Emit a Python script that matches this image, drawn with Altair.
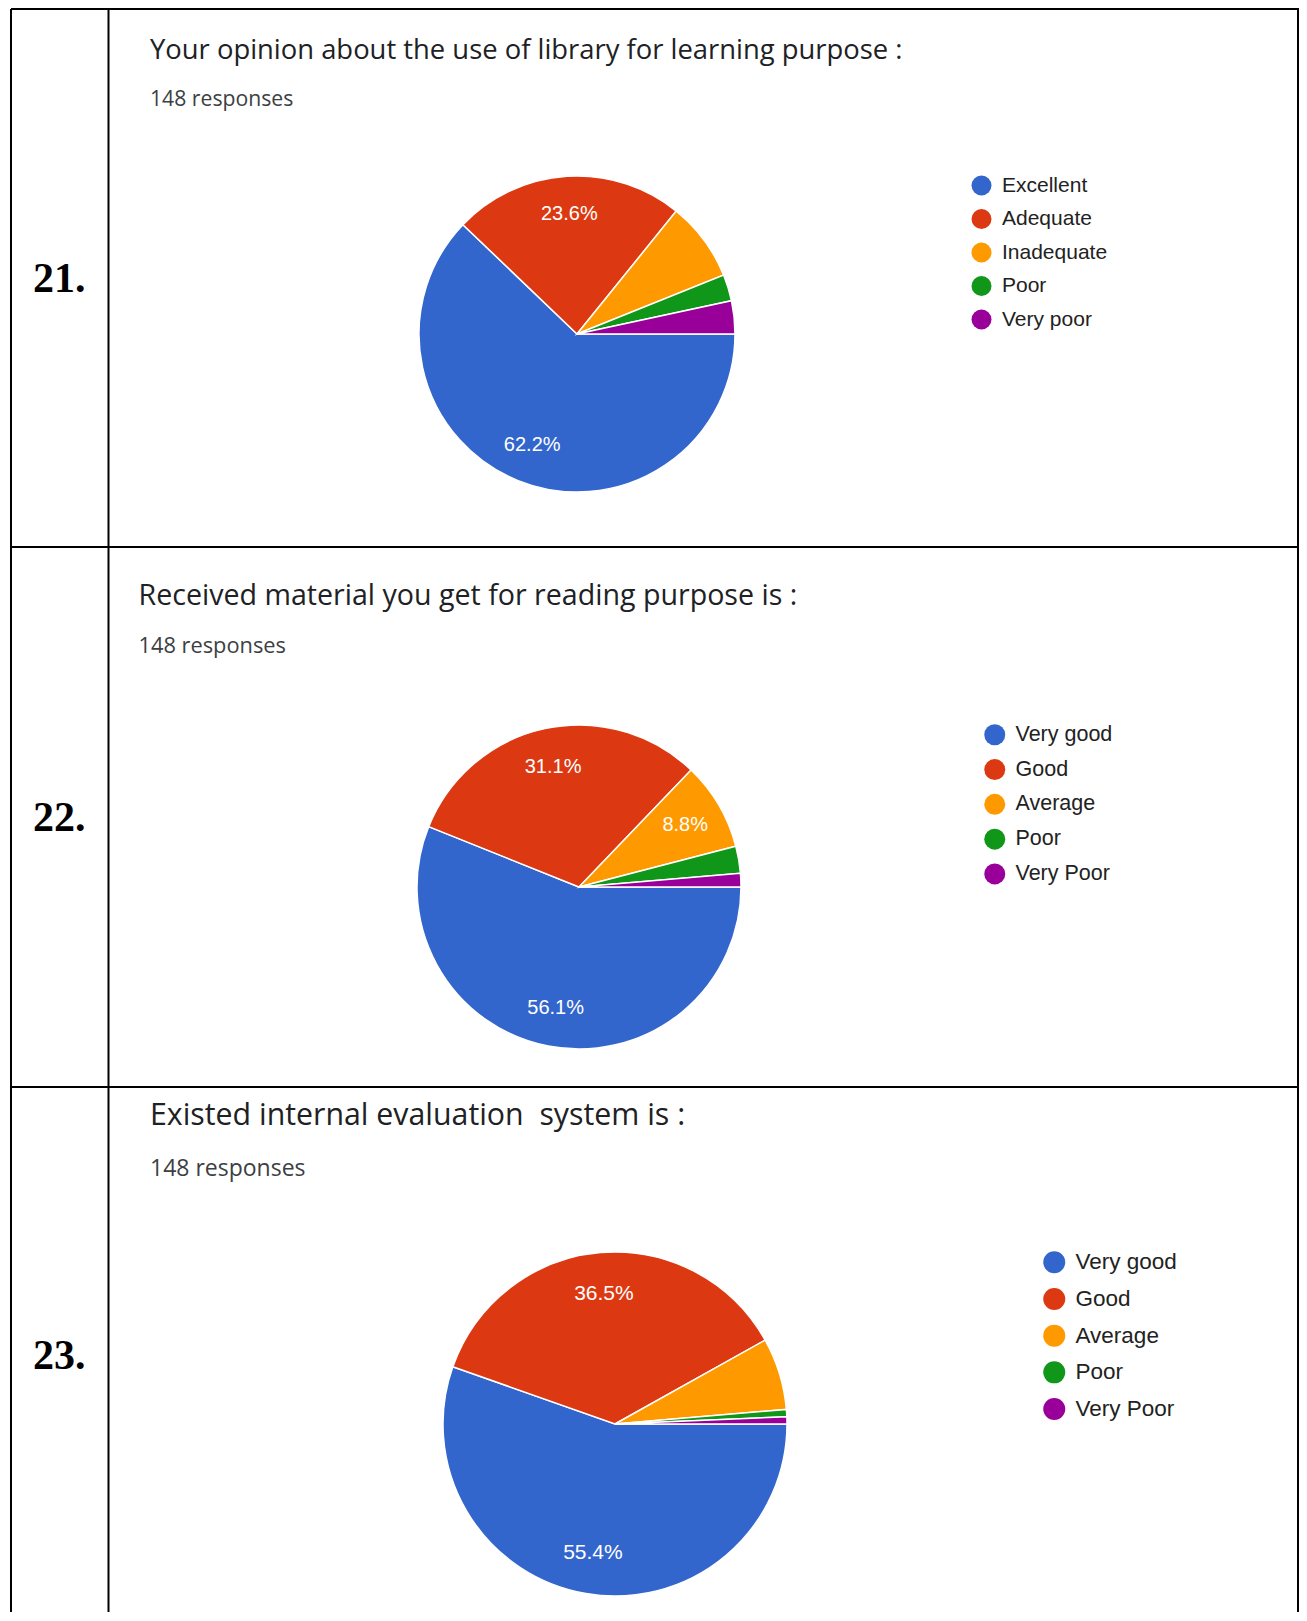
import math
import altair as alt
import pandas as pd

# ---- data ----
Q21_TITLE = "Your opinion about the use of library for learning purpose :"
Q21_CATS = ["Excellent", "Adequate", "Inadequate", "Poor", "Very poor"]
Q21_COUNTS = [92, 35, 12, 4, 5]

Q22_TITLE = "Received material you get for reading purpose is :"
Q22_CATS = ["Very good", "Good", "Average", "Poor", "Very Poor"]
Q22_COUNTS = [83, 46, 13, 4, 2]

Q23_TITLE = "Existed internal evaluation\u00a0 system is :"
Q23_CATS = ["Very good", "Good", "Average", "Poor", "Very Poor"]
Q23_COUNTS = [82, 54, 10, 1, 1]

ROW_NUMBERS = ["21.", "22.", "23."]
SUBTITLE = "148 responses"
COLORS = ["#3366cc", "#dc3912", "#ff9900", "#109618", "#990099"]

W, H = 1291, 1604


def text_layer(txt, x, y, size, font, color, weight="normal"):
    return alt.Chart(pd.DataFrame({"t": [txt]})).mark_text(
        align="left", baseline="middle", font=font, fontSize=size,
        color=color, fontWeight=weight
    ).encode(text="t:N", x=alt.value(x), y=alt.value(y))


def rule(x, x2, y, y2, w=2):
    return alt.Chart(pd.DataFrame({"d": [0]})).mark_rule(
        color="black", strokeWidth=w
    ).encode(x=alt.value(x), x2=alt.value(x2), y=alt.value(y), y2=alt.value(y2))


def pie(cats, counts, g):
    df = pd.DataFrame({"cat": cats, "n": counts, "idx": list(range(len(cats)))})
    total = sum(counts)
    theta = alt.Theta(
        "n:Q", stack=True,
        scale=alt.Scale(domain=[0, total], nice=False, zero=True,
                        range=[math.pi / 2, math.pi / 2 + 2 * math.pi]),
    )
    base = alt.Chart(df).transform_joinaggregate(
        total="sum(n)"
    ).transform_calculate(
        pct="datum.n / datum.total * 100",
        lab="datum.pct >= 8.5 ? format(datum.pct, '.1f') + '%' : ''",
    )
    arcs = base.mark_arc(radius=g["r"], stroke="white", strokeWidth=1.5).encode(
        theta=theta,
        order=alt.Order("idx:Q"),
        color=alt.Color(
            "cat:N", sort=cats,
            scale=alt.Scale(domain=cats, range=COLORS),
            legend=alt.Legend(
                title=None, orient="none",
                legendX=g["lx"], legendY=g["ly"],
                symbolType="circle", symbolSize=g["sym"] ** 2,
                symbolStrokeWidth=0, symbolOpacity=1,
                labelFont="Liberation Sans", labelFontSize=g["lfs"],
                labelColor="#222222", labelOffset=g["loff"],
                rowPadding=g["rp"], padding=0,
            ),
        ),
        x=alt.value(g["cx"]), y=alt.value(g["cy"]),
    )
    labels = base.mark_text(
        radius=g["r"] * 0.76, font="Liberation Sans", fontSize=g["pfs"],
        color="white", align="center", baseline="middle",
    ).encode(
        theta=theta, order=alt.Order("idx:Q"), text="lab:N",
        x=alt.value(g["cx"]), y=alt.value(g["cy"]),
    )
    return arcs, labels


G1 = dict(r=158, cx=569, cy=326, lx=963, ly=167, sym=20, lfs=21,
          loff=10, rp=11.5, pfs=20)
G2 = dict(r=162, cx=571, cy=879, lx=976, ly=716, sym=21, lfs=21.5,
          loff=10, rp=11.8, pfs=20)
G3 = dict(r=172, cx=607, cy=1416, lx=1035, ly=1243, sym=22, lfs=22.5,
          loff=10, rp=13.7, pfs=21)

a1, l1 = pie(Q21_CATS, Q21_COUNTS, G1)
a2, l2 = pie(Q22_CATS, Q22_COUNTS, G2)
a3, l3 = pie(Q23_CATS, Q23_COUNTS, G3)

RIGHT = W - 1
lines = [
    rule(3, W, 1, 1),
    rule(3, W, 539, 539),
    rule(3, W, 1079, 1079),
    rule(3, 3, 1, H),
    rule(100.5, 100.5, 1, H),
    rule(RIGHT, RIGHT, 1, H),
]
texts = [
    text_layer(ROW_NUMBERS[0], 25, 271, 42, "Liberation Serif", "black", "bold"),
    text_layer(ROW_NUMBERS[1], 25, 810, 42, "Liberation Serif", "black", "bold"),
    text_layer(ROW_NUMBERS[2], 25, 1348, 42, "Liberation Serif", "black", "bold"),
    text_layer(Q21_TITLE, 142, 43, 27.4, "Open Sans", "#202124"),
    text_layer(SUBTITLE, 142, 92, 21.2, "Open Sans", "#3c4043"),
    text_layer(Q22_TITLE, 130.5, 588, 28.6, "Open Sans", "#202124"),
    text_layer(SUBTITLE, 130.5, 638, 21.8, "Open Sans", "#3c4043"),
    text_layer(Q23_TITLE, 142, 1108, 30.3, "Open Sans", "#202124"),
    text_layer(SUBTITLE, 142, 1161, 23, "Open Sans", "#3c4043"),
]

chart = alt.layer(*lines, *texts, a1, l1, a2, l2, a3, l3).resolve_scale(
    color="independent"
).resolve_legend(color="independent").properties(
    width=W, height=H, padding=0, autosize=alt.AutoSizeParams(type="none")
).configure_view(stroke=None)

chart.save("out.html", embed_options={"renderer": "svg", "actions": False})
